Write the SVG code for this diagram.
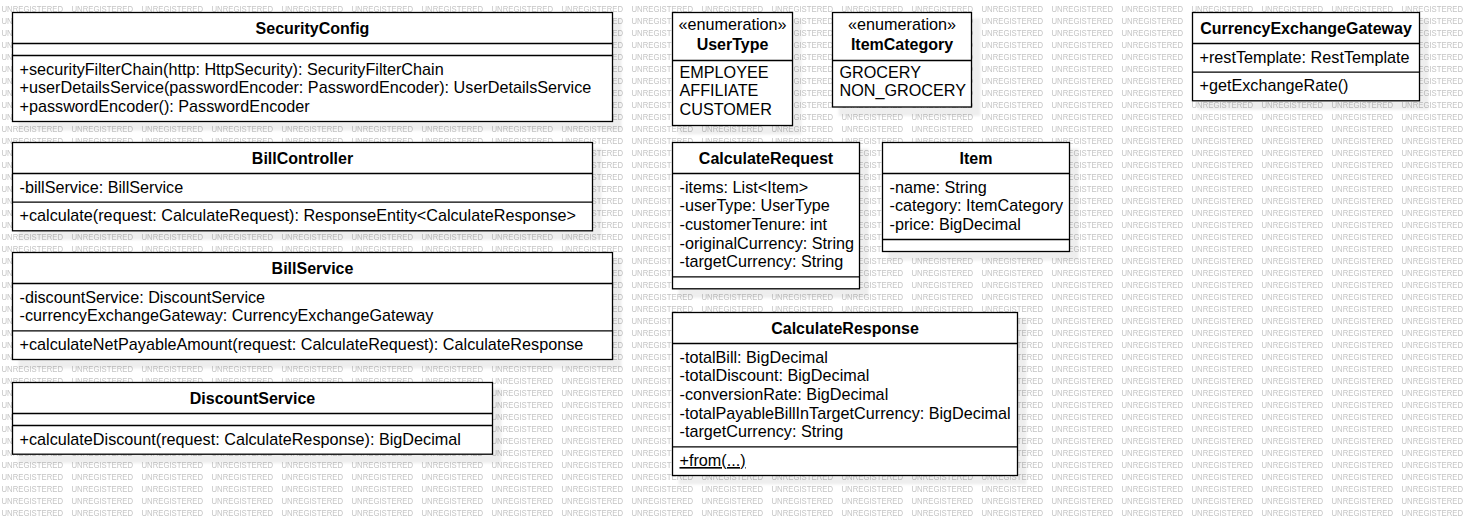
<svg xmlns="http://www.w3.org/2000/svg" width="1470" height="526" viewBox="0 0 1470 526">
<style>
.bg{fill:#ffffff}
.wm{font-family:"Liberation Sans",Arial,sans-serif;font-size:8.6px;fill:#c4c4c4}
.sh{fill:#000000;fill-opacity:0.065}
.box{fill:#ffffff;stroke:#000000;stroke-width:1.3}
.dv{stroke:#000000;stroke-width:1.3}
.t{font-family:"Liberation Sans",Arial,sans-serif;font-size:16.2px;fill:#000000}
.n{font-weight:bold;text-anchor:middle;font-size:16px}
.c{text-anchor:middle}
.u{text-decoration:underline}
</style>
<defs>
<pattern id="wmp" patternUnits="userSpaceOnUse" x="0" y="0" width="70" height="12">
<text class="wm" x="1.5" y="11.7" textLength="61.5" lengthAdjust="spacingAndGlyphs">UNREGISTERED</text>
</pattern>
<filter id="blur" x="-5%" y="-10%" width="110%" height="120%">
<feGaussianBlur stdDeviation="0.8"/>
</filter>
</defs>
<rect class="bg" x="0" y="0" width="1470" height="526"/>
<rect x="0" y="0" width="1470" height="518" fill="url(#wmp)"/>

<g id="shadows" filter="url(#blur)">
<rect class="sh" x="18.5" y="18.5" width="603" height="112"/>
<rect class="sh" x="18.5" y="148.5" width="583" height="91.3"/>
<rect class="sh" x="18.5" y="258.5" width="603" height="110"/>
<rect class="sh" x="18.5" y="388.5" width="483" height="74.7"/>
<rect class="sh" x="678.5" y="18.5" width="123" height="116"/>
<rect class="sh" x="838.5" y="18.5" width="142" height="97.5"/>
<rect class="sh" x="1198.5" y="18.5" width="230" height="91.3"/>
<rect class="sh" x="678.5" y="148.5" width="190" height="149.3"/>
<rect class="sh" x="888.5" y="148.5" width="190" height="112"/>
<rect class="sh" x="678.5" y="318.5" width="348" height="166"/>
</g>

<g id="connectors"></g>

<g id="SecurityConfig">
<rect class="box" x="12.5" y="12.5" width="600" height="109"/>
<line class="dv" x1="12.5" y1="43.5" x2="612.5" y2="43.5"/>
<line class="dv" x1="12.5" y1="55.5" x2="612.5" y2="55.5"/>
<text class="t n" x="312.5" y="33.8">SecurityConfig</text>
<text class="t" x="19.5" y="74.7">+securityFilterChain(http: HttpSecurity): SecurityFilterChain</text>
<text class="t" x="19.5" y="93.4">+userDetailsService(passwordEncoder: PasswordEncoder): UserDetailsService</text>
<text class="t" x="19.5" y="112">+passwordEncoder(): PasswordEncoder</text>
</g>

<g id="BillController">
<rect class="box" x="12.5" y="142.5" width="580" height="88.3"/>
<line class="dv" x1="12.5" y1="173.5" x2="592.5" y2="173.5"/>
<line class="dv" x1="12.5" y1="202.2" x2="592.5" y2="202.2"/>
<text class="t n" x="302.5" y="163.8">BillController</text>
<text class="t" x="19.5" y="192.7">-billService: BillService</text>
<text class="t" x="19.5" y="221.4">+calculate(request: CalculateRequest): ResponseEntity&lt;CalculateResponse&gt;</text>
</g>

<g id="BillService">
<rect class="box" x="12.5" y="252.5" width="600" height="107"/>
<line class="dv" x1="12.5" y1="283.5" x2="612.5" y2="283.5"/>
<line class="dv" x1="12.5" y1="330.8" x2="612.5" y2="330.8"/>
<text class="t n" x="312.5" y="273.8">BillService</text>
<text class="t" x="19.5" y="302.7">-discountService: DiscountService</text>
<text class="t" x="19.5" y="321.4">-currencyExchangeGateway: CurrencyExchangeGateway</text>
<text class="t" x="19.5" y="350">+calculateNetPayableAmount(request: CalculateRequest): CalculateResponse</text>
</g>

<g id="DiscountService">
<rect class="box" x="12.5" y="382.5" width="480" height="71.7"/>
<line class="dv" x1="12.5" y1="413.5" x2="492.5" y2="413.5"/>
<line class="dv" x1="12.5" y1="425.5" x2="492.5" y2="425.5"/>
<text class="t n" x="252.5" y="403.8">DiscountService</text>
<text class="t" x="19.5" y="444.7">+calculateDiscount(request: CalculateResponse): BigDecimal</text>
</g>

<g id="UserType">
<rect class="box" x="672.5" y="12.5" width="120" height="113"/>
<line class="dv" x1="672.5" y1="60.5" x2="792.5" y2="60.5"/>
<text class="t c" x="732.5" y="30">«enumeration»</text>
<text class="t n" x="732.5" y="49.5">UserType</text>
<text class="t" x="679.5" y="77.5">EMPLOYEE</text>
<text class="t" x="679.5" y="96.3">AFFILIATE</text>
<text class="t" x="679.5" y="115">CUSTOMER</text>
</g>

<g id="ItemCategory">
<rect class="box" x="832.5" y="12.5" width="139" height="94.5"/>
<line class="dv" x1="832.5" y1="60.5" x2="971.5" y2="60.5"/>
<text class="t c" x="902" y="30">«enumeration»</text>
<text class="t n" x="902" y="49.5">ItemCategory</text>
<text class="t" x="839.5" y="77.5">GROCERY</text>
<text class="t" x="839.5" y="96.3">NON_GROCERY</text>
</g>

<g id="CurrencyExchangeGateway">
<rect class="box" x="1192.5" y="12.5" width="227" height="88.3"/>
<line class="dv" x1="1192.5" y1="43.5" x2="1419.5" y2="43.5"/>
<line class="dv" x1="1192.5" y1="72.2" x2="1419.5" y2="72.2"/>
<text class="t n" x="1306" y="33.8">CurrencyExchangeGateway</text>
<text class="t" x="1199.5" y="62.7">+restTemplate: RestTemplate</text>
<text class="t" x="1199.5" y="91.4">+getExchangeRate()</text>
</g>

<g id="CalculateRequest">
<rect class="box" x="672.5" y="142.5" width="187" height="146.3"/>
<line class="dv" x1="672.5" y1="173.5" x2="859.5" y2="173.5"/>
<line class="dv" x1="672.5" y1="276.8" x2="859.5" y2="276.8"/>
<text class="t n" x="766" y="163.8">CalculateRequest</text>
<text class="t" x="679.5" y="192.7">-items: List&lt;Item&gt;</text>
<text class="t" x="679.5" y="211.4">-userType: UserType</text>
<text class="t" x="679.5" y="230">-customerTenure: int</text>
<text class="t" x="679.5" y="248.7">-originalCurrency: String</text>
<text class="t" x="679.5" y="267.4">-targetCurrency: String</text>
</g>

<g id="Item">
<rect class="box" x="882.5" y="142.5" width="187" height="109"/>
<line class="dv" x1="882.5" y1="173.5" x2="1069.5" y2="173.5"/>
<line class="dv" x1="882.5" y1="239.5" x2="1069.5" y2="239.5"/>
<text class="t n" x="976" y="163.8">Item</text>
<text class="t" x="889.5" y="192.7">-name: String</text>
<text class="t" x="889.5" y="211.4">-category: ItemCategory</text>
<text class="t" x="889.5" y="230">-price: BigDecimal</text>
</g>

<g id="CalculateResponse">
<rect class="box" x="672.5" y="312.5" width="345" height="163"/>
<line class="dv" x1="672.5" y1="343.5" x2="1017.5" y2="343.5"/>
<line class="dv" x1="672.5" y1="446.8" x2="1017.5" y2="446.8"/>
<text class="t n" x="845" y="333.8">CalculateResponse</text>
<text class="t" x="679.5" y="362.7">-totalBill: BigDecimal</text>
<text class="t" x="679.5" y="381.4">-totalDiscount: BigDecimal</text>
<text class="t" x="679.5" y="400">-conversionRate: BigDecimal</text>
<text class="t" x="679.5" y="418.7">-totalPayableBillInTargetCurrency: BigDecimal</text>
<text class="t" x="679.5" y="437.4">-targetCurrency: String</text>
<text class="t u" x="679.5" y="466">+from(...)</text>
</g>
</svg>
